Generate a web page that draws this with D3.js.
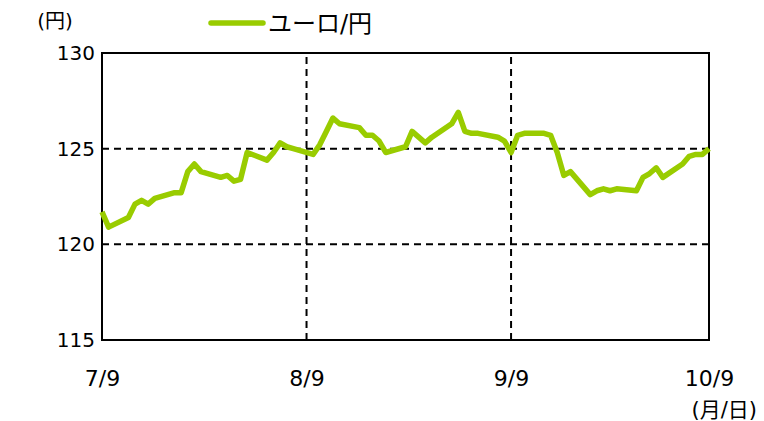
<!DOCTYPE html>
<html>
<head>
<meta charset="utf-8">
<script src="https://cdn.jsdelivr.net/npm/d3@7"></script>
<style>
  body { margin: 0; background: #fff; }
  svg text { font-family: "DejaVu Sans", "Noto Sans CJK JP", sans-serif; fill: #000; }
</style>
</head>
<body>
<svg id="chart" width="764" height="421"></svg>
<script>
// data: EUR/JPY daily, 2020-07-09 .. 2020-10-09
var dates = [
  "2020-07-09","2020-07-10","2020-07-13","2020-07-14","2020-07-15","2020-07-16","2020-07-17",
  "2020-07-20","2020-07-21","2020-07-22","2020-07-23","2020-07-24",
  "2020-07-27","2020-07-28","2020-07-29","2020-07-30","2020-07-31",
  "2020-08-03","2020-08-04","2020-08-05","2020-08-06","2020-08-07",
  "2020-08-10","2020-08-11","2020-08-12","2020-08-13","2020-08-14",
  "2020-08-17","2020-08-18","2020-08-19","2020-08-20","2020-08-21",
  "2020-08-24","2020-08-25","2020-08-26","2020-08-27","2020-08-28",
  "2020-08-31","2020-09-01","2020-09-02","2020-09-03","2020-09-04",
  "2020-09-07","2020-09-08","2020-09-09","2020-09-10","2020-09-11",
  "2020-09-14","2020-09-15","2020-09-16","2020-09-17","2020-09-18",
  "2020-09-21","2020-09-22","2020-09-23","2020-09-24","2020-09-25",
  "2020-09-28","2020-09-29","2020-09-30","2020-10-01","2020-10-02",
  "2020-10-05","2020-10-06","2020-10-07","2020-10-08","2020-10-09"
];
var eurjpy = [
  121.7,120.9,121.4,122.1,122.3,122.1,122.4,
  122.7,122.7,123.8,124.2,123.8,
  123.5,123.6,123.3,123.4,124.8,
  124.4,124.8,125.3,125.1,125.0,
  124.7,125.2,125.9,126.6,126.3,
  126.1,125.7,125.7,125.4,124.8,
  125.1,125.9,125.6,125.3,125.6,
  126.3,126.9,125.9,125.8,125.8,
  125.6,125.4,124.8,125.7,125.8,
  125.8,125.7,124.8,123.6,123.8,
  122.6,122.8,122.9,122.8,122.9,
  122.8,123.5,123.7,124.0,123.5,
  124.2,124.6,124.7,124.7,125.0
];
var yTicks = [115, 120, 125, 130];
var xTicks = ["2020-07-09", "2020-08-09", "2020-09-09", "2020-10-09"];
var xTickLabels = ["7/9", "8/9", "9/9", "10/9"];
var seriesName = "ユーロ/円";

var parse = d3.timeParse("%Y-%m-%d");
var svg = d3.select("#chart");
var margin = {left: 102, right: 55, top: 53, bottom: 81};
var W = 764, H = 421;

var x = d3.scaleTime()
  .domain([parse(xTicks[0]), parse(xTicks[xTicks.length - 1])])
  .range([margin.left, W - margin.right]);
var y = d3.scaleLinear()
  .domain([115, 130])
  .range([H - margin.bottom, margin.top]);

// dashed grid
svg.append("g").selectAll("line.h")
  .data(yTicks.slice(1, -1)).enter().append("line")
  .attr("x1", x.range()[0]).attr("x2", x.range()[1])
  .attr("y1", function(d){ return y(d); }).attr("y2", function(d){ return y(d); })
  .attr("stroke", "#000").attr("stroke-width", 2).attr("stroke-dasharray", "7,5");
svg.append("g").selectAll("line.v")
  .data(xTicks.slice(1, -1)).enter().append("line")
  .attr("x1", function(d){ return x(parse(d)); }).attr("x2", function(d){ return x(parse(d)); })
  .attr("y1", y.range()[0]).attr("y2", y.range()[1])
  .attr("stroke", "#000").attr("stroke-width", 2).attr("stroke-dasharray", "7,5");

// frame
svg.append("rect")
  .attr("x", x.range()[0]).attr("y", y.range()[1])
  .attr("width", x.range()[1] - x.range()[0]).attr("height", y.range()[0] - y.range()[1])
  .attr("fill", "none").attr("stroke", "#000").attr("stroke-width", 2);

// axes (labels only)
var yAxis = d3.axisLeft(y).tickValues(yTicks).tickSize(0).tickPadding(7);
var gy = svg.append("g").attr("transform", "translate(" + margin.left + ",0)").call(yAxis);
gy.select(".domain").remove();
gy.selectAll("text").style("font-size", "20px");

var xAxis = d3.axisBottom(x).tickValues(xTicks.map(parse)).tickSize(0).tickPadding(30)
  .tickFormat(function(d, i){ return xTickLabels[i]; });
var gx = svg.append("g").attr("transform", "translate(0," + (H - margin.bottom) + ")").call(xAxis);
gx.select(".domain").remove();
gx.selectAll("text").style("font-size", "22px");

// series
var line = d3.line()
  .x(function(d, i){ return x(parse(dates[i])); })
  .y(function(d){ return y(d); });
svg.append("path").datum(eurjpy)
  .attr("d", line)
  .attr("fill", "none").attr("stroke", "#99cc00").attr("stroke-width", 5.5)
  .attr("stroke-linejoin", "round");

// unit labels
svg.append("text").attr("x", 55).attr("y", 28).attr("text-anchor", "middle")
  .style("font-size", "20px").text("(円)");
svg.append("text").attr("x", 757).attr("y", 417).attr("text-anchor", "end")
  .style("font-size", "21px").text("(月/日)");

// legend
var lg = svg.append("g").attr("transform", "translate(211,23)");
lg.append("line").attr("x1", 0).attr("x2", 52).attr("y1", 0).attr("y2", 0)
  .attr("stroke", "#99cc00").attr("stroke-width", 5.5).attr("stroke-linecap", "round");
lg.append("text").attr("x", 57).attr("y", 9).style("font-size", "24px").text(seriesName);
</script>
</body>
</html>
